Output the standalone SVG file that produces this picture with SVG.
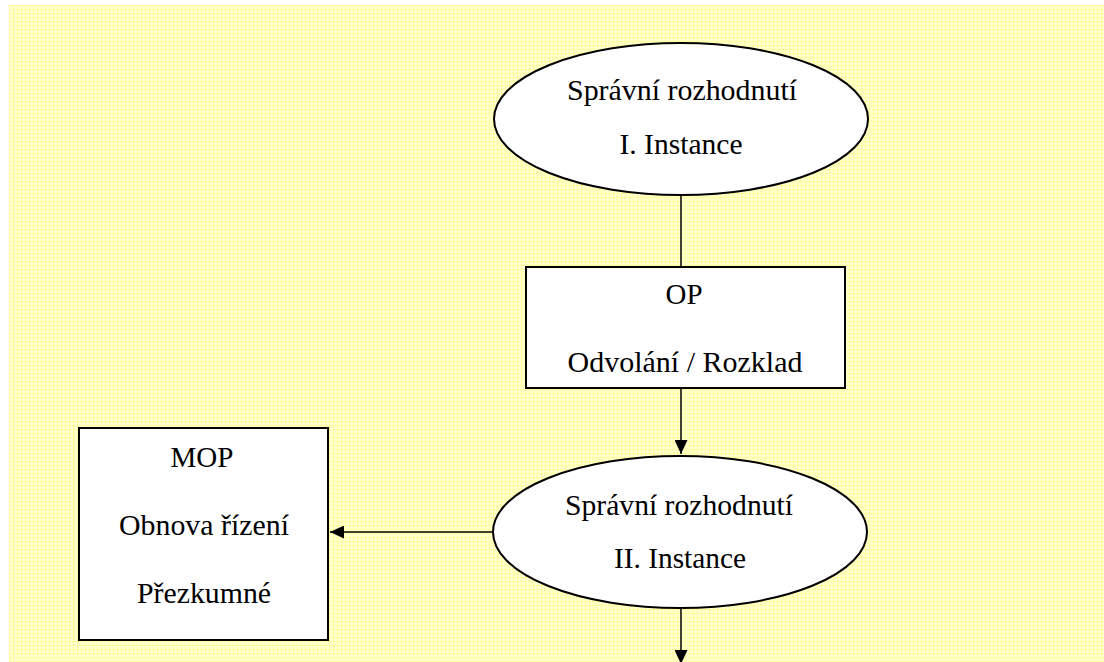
<svg xmlns="http://www.w3.org/2000/svg" width="1104" height="662" viewBox="0 0 1104 662">
<defs>
<pattern id="grid" x="9" y="5" width="4" height="4" patternUnits="userSpaceOnUse">
<rect width="4" height="4" fill="#FFFFD2"/>
<rect x="0" y="0" width="1" height="4" fill="#FFFF9E"/>
<rect x="0" y="0" width="4" height="1" fill="#FFFF9E"/>
</pattern>
<marker id="arr" viewBox="0 0 14 13" refX="14" refY="6.5" markerWidth="14" markerHeight="13" markerUnits="userSpaceOnUse" orient="auto">
<path d="M0,0 L14,6.5 L0,13 Z" fill="#000"/>
</marker>
<style>
.shape{fill:#fff;stroke:#000;stroke-width:2}
.t{font-family:"Liberation Serif","Times New Roman",serif;font-size:29px;fill:#000;text-anchor:middle}
.c{stroke:#000;stroke-width:1.5;fill:none}
</style>
</defs>
<rect width="1104" height="662" fill="#fff"/>
<rect x="9" y="5" width="1095" height="657" fill="url(#grid)"/>
<g id="connectors">
<line class="c" x1="681" y1="195" x2="681" y2="267"/>
<line class="c" x1="681" y1="388" x2="681" y2="454" marker-end="url(#arr)"/>
<line class="c" x1="493" y1="532" x2="330" y2="532" marker-end="url(#arr)"/>
<line class="c" x1="681" y1="608" x2="681" y2="664" marker-end="url(#arr)"/>
</g>
<g id="node-instance1">
<ellipse class="shape" cx="681" cy="119" rx="187" ry="76"/>
<text class="t" x="682" y="100" textLength="230" lengthAdjust="spacingAndGlyphs">Správní rozhodnutí</text>
<text class="t" x="681" y="154" textLength="123" lengthAdjust="spacingAndGlyphs">I. Instance</text>
</g>
<g id="node-op">
<rect class="shape" x="526" y="267" width="319" height="121"/>
<text class="t" x="684" y="304" textLength="37" lengthAdjust="spacingAndGlyphs">OP</text>
<text class="t" x="685" y="372" textLength="235" lengthAdjust="spacingAndGlyphs">Odvolání / Rozklad</text>
</g>
<g id="node-instance2">
<ellipse class="shape" cx="680" cy="532" rx="187" ry="76"/>
<text class="t" x="679" y="515" textLength="228" lengthAdjust="spacingAndGlyphs">Správní rozhodnutí</text>
<text class="t" x="680" y="568" textLength="132" lengthAdjust="spacingAndGlyphs">II. Instance</text>
</g>
<g id="node-mop">
<rect class="shape" x="79" y="428" width="249" height="212"/>
<text class="t" x="202" y="467" textLength="63" lengthAdjust="spacingAndGlyphs">MOP</text>
<text class="t" x="204" y="535" textLength="170" lengthAdjust="spacingAndGlyphs">Obnova řízení</text>
<text class="t" x="204" y="603" textLength="134" lengthAdjust="spacingAndGlyphs">Přezkumné</text>
</g>
</svg>
